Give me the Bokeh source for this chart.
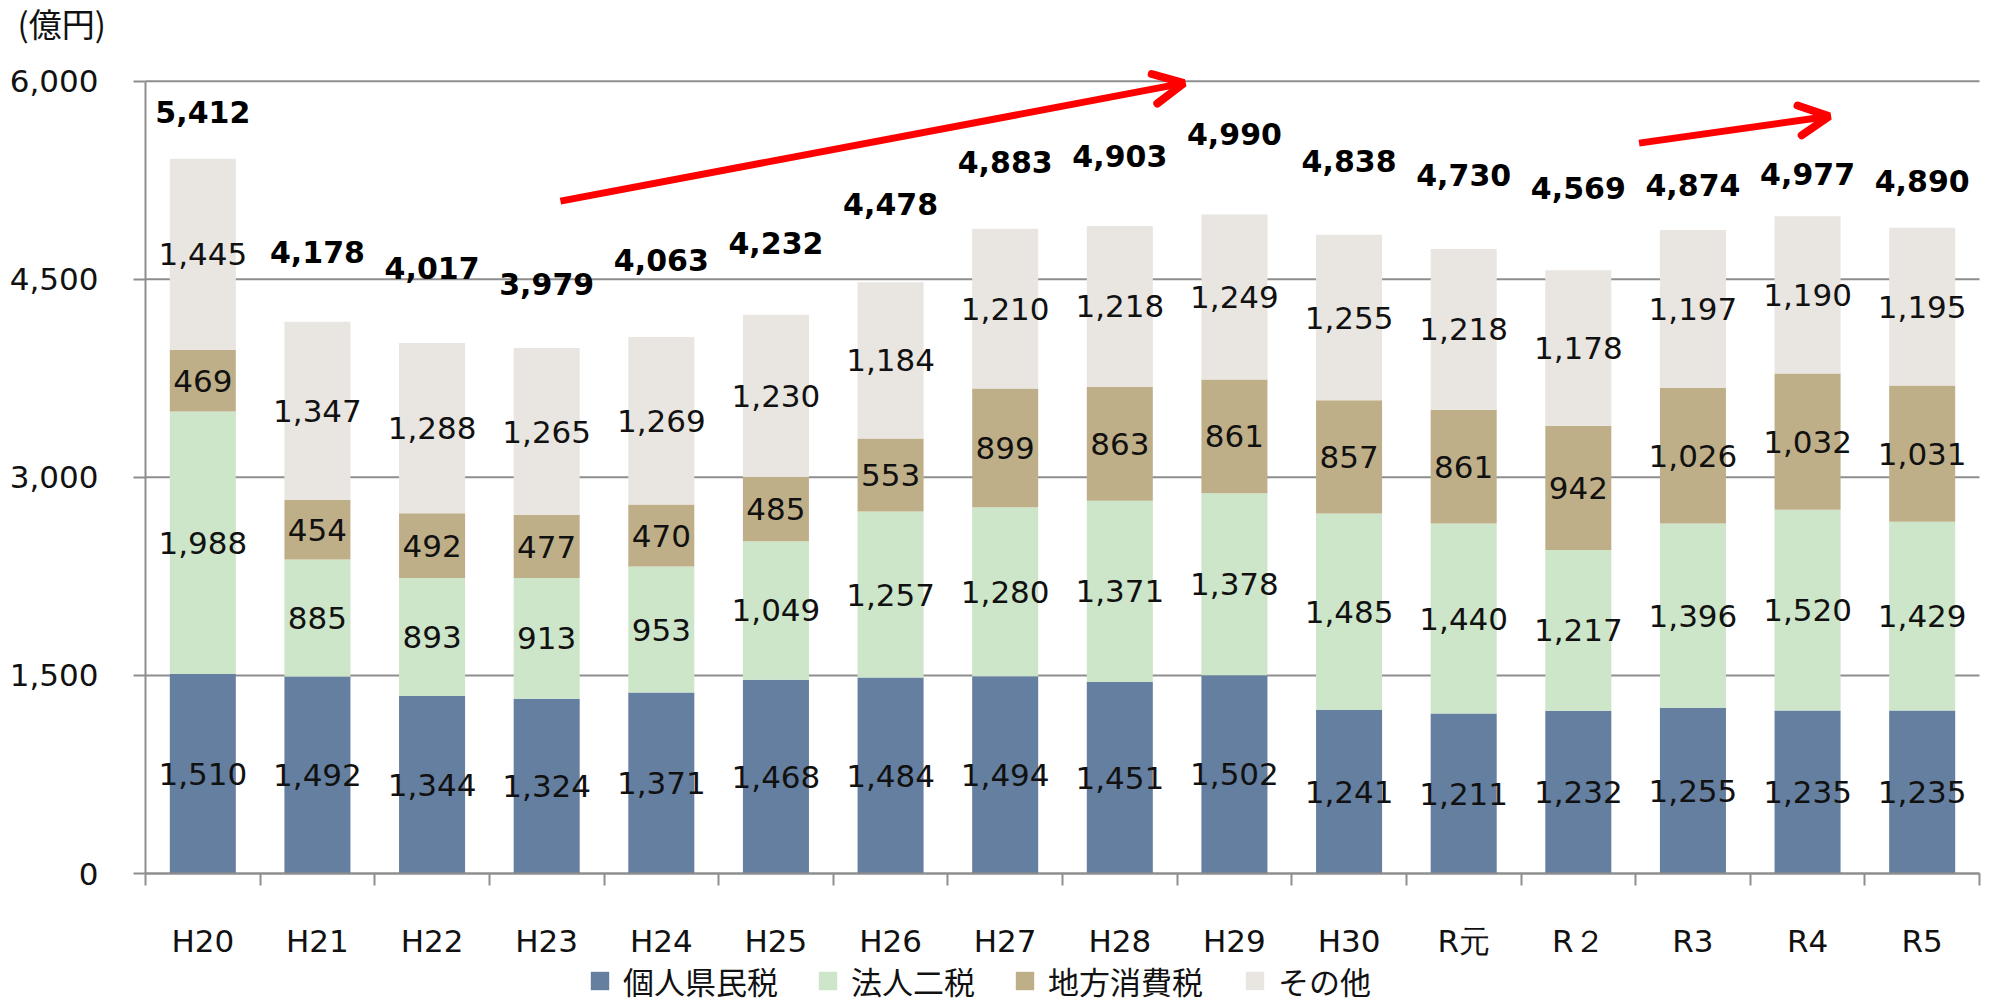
from bokeh.plotting import figure
from bokeh.models import (ColumnDataSource, Range1d, FixedTicker, NumeralTickFormatter,
                          Legend, LegendItem, Arrow, OpenHead, Label)
from bokeh.core.properties import value
from bokeh.embed import file_html
from bokeh.resources import INLINE

# ---- data ----
years = ["H20", "H21", "H22", "H23", "H24", "H25", "H26", "H27", "H28", "H29",
         "H30", "R元", "R２", "R3", "R4", "R5"]
kojin = [1510, 1492, 1344, 1324, 1371, 1468, 1484, 1494, 1451, 1502, 1241, 1211, 1232, 1255, 1235, 1235]
hojin = [1988, 885, 893, 913, 953, 1049, 1257, 1280, 1371, 1378, 1485, 1440, 1217, 1396, 1520, 1429]
chiho = [469, 454, 492, 477, 470, 485, 553, 899, 863, 861, 857, 861, 942, 1026, 1032, 1031]
sonota = [1445, 1347, 1288, 1265, 1269, 1230, 1184, 1210, 1218, 1249, 1255, 1218, 1178, 1197, 1190, 1195]
totals = [5412, 4178, 4017, 3979, 4063, 4232, 4478, 4883, 4903, 4990, 4838, 4730, 4569, 4874, 4977, 4890]
series_names = ["個人県民税", "法人二税", "地方消費税", "その他"]
y_ticks = [0, 1500, 3000, 4500, 6000]
unit_label = "(億円)"

# trend arrows (data coordinates: category index units, 億円)
arrow_x_start = [3.62, 13.03]
arrow_y_start = [5092, 5531]
arrow_x_end = [9.06, 14.69]
arrow_y_end = [5985, 5735]

# vertical lift of the bold total labels above each bar (data units)
total_label_lift = [345, 522, 558, 481, 572, 538, 582, 497, 522, 600, 549, 550, 616, 331, 313, 345]

# ---- layout (pixels) ----
W, H = 2000, 1006
AX_LEFT, AX_RIGHT = 145, 1979      # plot area left / right
Y0_PX, YTOP_PX = 873, 80.7         # pixel rows of 0 and of the top tick
legend_x = [588, 816, 1013, 1243]  # legend entry left edges
legend_y = 3

colors = ["#647f9f", "#cde5c8", "#bfaf88", "#e9e5e1"]
keys = ["kojin", "hojin", "chiho", "sonota"]
series = [kojin, hojin, chiho, sonota]

n = len(years)
xs = [i + 0.5 for i in range(n)]
src = ColumnDataSource(dict(x=xs, kojin=kojin, hojin=hojin, chiho=chiho, sonota=sonota))

px_per_cat = (AX_RIGHT - AX_LEFT) / n
px_per_unit = (Y0_PX - YTOP_PX) / y_ticks[-1]
x_range = Range1d(-AX_LEFT / px_per_cat, n + (W - AX_RIGHT) / px_per_cat)
y_range = Range1d(-(H - Y0_PX) / px_per_unit, Y0_PX / px_per_unit)

# the frame covers the whole canvas; axes are pinned at x = 0 and y = 0
p = figure(width=W, height=H, output_backend="svg", toolbar_location=None,
           x_range=x_range, y_range=y_range,
           min_border_left=0, min_border_right=0, min_border_top=0, min_border_bottom=0)
p.outline_line_color = None
p.background_fill_color = "white"
p.border_fill_color = "white"

grid_col = "#8e8e8e"
# horizontal grid lines across the plot area only
p.segment(x0=[0] * len(y_ticks), x1=[n] * len(y_ticks), y0=y_ticks, y1=y_ticks,
          line_color=grid_col, line_width=2, level="underlay")

renderers = p.vbar_stack(keys, x="x", width=0.576, source=src, color=colors, line_color=None)

# segment labels
lx, ly, lt = [], [], []
for i in range(n):
    base = 0
    for s in series:
        v = s[i]
        lx.append(xs[i])
        ly.append(base + v / 2)
        lt.append(f"{v:,}")
        base += v
p.text(x=lx, y=ly, text=lt, text_align="center", text_baseline="middle",
       text_font=value("DejaVu Sans"), text_font_size="31px", text_color="#111111")

# total labels
p.text(x=xs, y=[t + d for t, d in zip(totals, total_label_lift)], text=[f"{t:,}" for t in totals],
       text_align="center", text_baseline="middle", text_font=value("DejaVu Sans"),
       text_font_size="30px", text_font_style="bold", text_color="#000000", y_offset=-1)

# arrows
for xs0, ys0, xe, ye in zip(arrow_x_start, arrow_y_start, arrow_x_end, arrow_y_end):
    p.add_layout(Arrow(x_start=xs0, y_start=ys0, x_end=xe, y_end=ye,
                       line_color="#ff0000", line_width=7,
                       end=OpenHead(size=30, line_color="#ff0000", line_width=8, line_cap="round")))

# y axis pinned at x = 0
yt = FixedTicker(ticks=y_ticks)
p.yaxis.fixed_location = 0
p.yaxis.ticker = yt
p.yaxis.formatter = NumeralTickFormatter(format="0,0")
p.yaxis.bounds = (0, y_ticks[-1])
p.yaxis.axis_line_color = grid_col
p.yaxis.axis_line_width = 2
p.yaxis.major_tick_line_color = grid_col
p.yaxis.major_tick_line_width = 2
p.yaxis.major_tick_out = 12
p.yaxis.major_tick_in = 0
p.yaxis.minor_tick_line_color = None
p.yaxis.major_label_standoff = 35
p.yaxis.major_label_text_font = "DejaVu Sans"
p.yaxis.major_label_text_font_size = "31px"
p.yaxis.major_label_text_color = "#111111"

# x axis pinned at y = 0
xt = FixedTicker(ticks=xs, minor_ticks=list(range(n + 1)))
p.xaxis.fixed_location = 0
p.xaxis.bounds = (0, n)
p.xaxis.ticker = xt
p.xaxis.major_label_overrides = {x: y for x, y in zip(xs, years)}
p.xaxis.axis_line_color = grid_col
p.xaxis.axis_line_width = 2
p.xaxis.major_tick_line_color = None
p.xaxis.minor_tick_line_color = grid_col
p.xaxis.minor_tick_line_width = 2
p.xaxis.minor_tick_out = 12
p.xaxis.minor_tick_in = 0
p.xaxis.major_label_standoff = 37
p.xaxis.major_label_text_font = "DejaVu Sans"
p.xaxis.major_label_text_font_size = "31px"
p.xaxis.major_label_text_color = "#111111"

p.xgrid.grid_line_color = None
p.ygrid.grid_line_color = None

# unit label, top left
p.add_layout(Label(x=17, y=H - 22.5, x_units="screen", y_units="screen", text=unit_label,
                   text_font="Noto Sans CJK JP", text_font_size="33px", text_baseline="middle",
                   text_color="#111111"))

# one legend per entry so each entry sits where the reference puts it
for nm, r, lxp in zip(series_names, renderers, legend_x):
    lg = Legend(items=[LegendItem(label=nm, renderers=[r])],
                orientation="horizontal", location=(lxp, legend_y),
                glyph_width=23, glyph_height=23, label_standoff=12, spacing=0,
                padding=0, margin=0, border_line_color=None, background_fill_alpha=0,
                label_text_font="Noto Sans CJK JP", label_text_font_size="31px",
                label_text_color="#111111", label_height=23)
    p.add_layout(lg)

open("out.html", "w").write(file_html(p, INLINE))
